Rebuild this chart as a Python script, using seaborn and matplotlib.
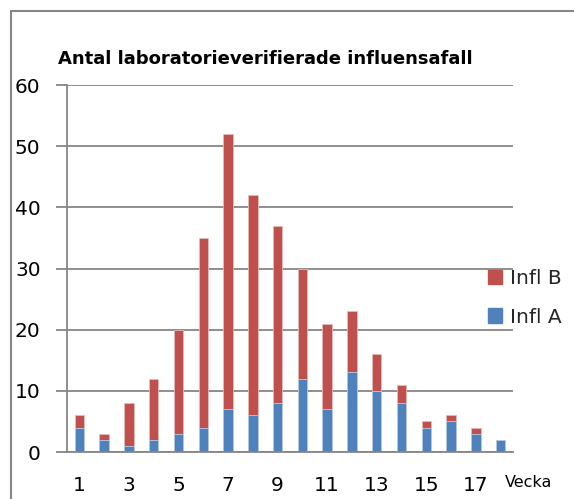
import matplotlib
matplotlib.use("Agg")
import matplotlib.pyplot as plt
import seaborn as sns
import pandas as pd
import numpy as np
from matplotlib.patches import Rectangle, Patch

weeks = list(range(1, 19))
infl_a = [4, 2, 1, 2, 3, 4, 7, 6, 8, 12, 7, 13, 10, 8, 4, 5, 3, 2]
infl_b = [2, 1, 7, 10, 17, 31, 45, 36, 29, 18, 14, 10, 6, 3, 1, 1, 1, 0]
title = "Antal laboratorieverifierade influensafall"
y_ticks = [0, 10, 20, 30, 40, 50, 60]

RED = "#C0504D"
BLUE = "#4F81BD"
GRAY = "#868686"

sns.set_theme(style="white")
plt.rcParams["font.family"] = ["DejaVu Sans"]

df = pd.DataFrame({"week": [str(w) for w in weeks], "A": infl_a, "B": infl_b})
df["total"] = df["A"] + df["B"]

W, H = 574, 499
fig = plt.figure(figsize=(W / 100, H / 100), dpi=100)
ax = fig.add_axes([67 / W, 1 - 452 / H, (513 - 67) / W, (452 - 85) / H])

sns.barplot(data=df, x="week", y="total", color=RED, width=0.38, ax=ax,
            saturation=1, edgecolor="#E6B9B8", linewidth=0.6)
sns.barplot(data=df, x="week", y="A", color=BLUE, width=0.38, ax=ax,
            saturation=1, edgecolor="#B9CDE5", linewidth=0.6)

ax.set_xlim(-0.5, len(weeks) - 0.5)
ax.set_ylim(0, 60)
ax.set_yticks(y_ticks)
ax.set_yticklabels([str(v) for v in y_ticks], fontsize=14.5, color="black")
ax.yaxis.grid(True, color=GRAY, linewidth=1.3)
ax.set_axisbelow(True)

major_pos = [i for i, w in enumerate(weeks) if w % 2 == 1]
ax.set_xticks(major_pos)
ax.set_xticklabels([str(weeks[i]) for i in major_pos], fontsize=14.5, color="black")
ax.set_xticks(np.arange(-0.5, len(weeks), 1.0), minor=True)
ax.tick_params(axis="x", which="major", length=0, pad=17)
ax.tick_params(axis="x", which="minor", length=7, width=1.3, color=GRAY, direction="out")
ax.tick_params(axis="y", which="major", length=8, width=1.3, color=GRAY, direction="out", pad=11, left=True)

ax.set_xlabel("")
ax.set_ylabel("")
for s in ["top", "right"]:
    ax.spines[s].set_visible(False)
for s in ["left", "bottom"]:
    ax.spines[s].set_color(GRAY)
    ax.spines[s].set_linewidth(1.3)

t = fig.text(58 / W, 1 - 64.5 / H, title, fontsize=12, fontweight="bold",
             ha="left", va="baseline", color="black")
# fit title to the reference width (~414 px)
r = fig.canvas.get_renderer()
wpx = t.get_window_extent(renderer=r).width
t.set_fontsize(12 * 414 / wpx)

fig.text(505 / W, 1 - 487 / H, "Vecka", fontsize=11.5, ha="left",
         va="baseline", color="black")

handles = [Patch(facecolor=RED, edgecolor=RED), Patch(facecolor=BLUE, edgecolor=BLUE)]
fig.legend(handles, ["Infl B", "Infl A"], loc="center left",
           bbox_to_anchor=(488 / W, 1 - 298 / H), frameon=False, fontsize=14.5,
           handlelength=0.7, handleheight=0.7, handletextpad=0.4,
           labelspacing=0.95, borderpad=0, borderaxespad=0)

fig.patches.append(Rectangle((11 / W, -0.1), 1.2, 1 - 11 / H + 0.1,
                             transform=fig.transFigure, fill=False,
                             edgecolor=GRAY, linewidth=1.5))

fig.savefig("out.png", dpi=100)
